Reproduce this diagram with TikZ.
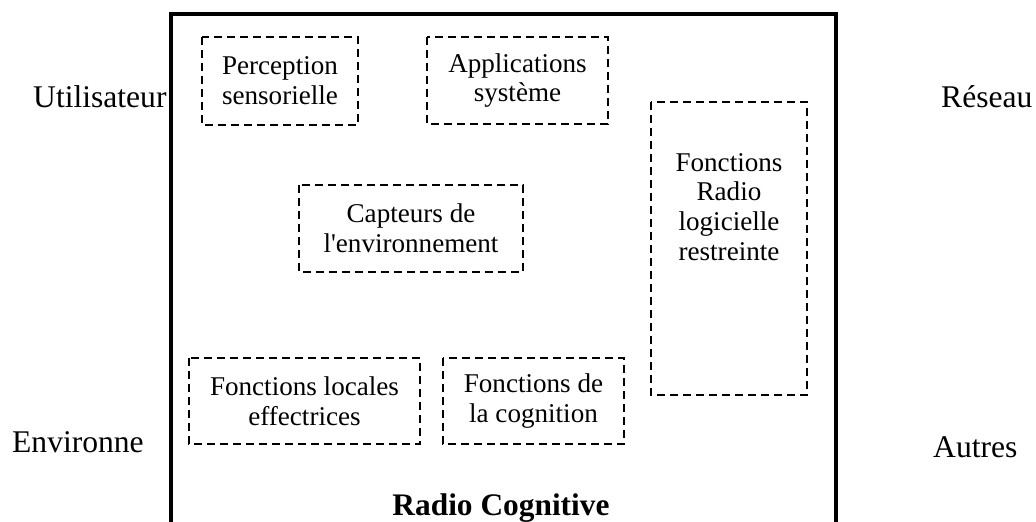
\documentclass[tikz,border=0pt]{standalone}
\usepackage{fontspec}
\setmainfont{Liberation Serif}[Ligatures=TeXOff]
\begin{document}
\begin{tikzpicture}[x=1bp,y=-1bp,
  frame/.style={line width=4bp},
  part/.style={draw, line width=1.8bp, dash pattern=on 8bp off 5bp},
  parttext/.style={align=center, font=\fontsize{27.2}{30}\selectfont, inner sep=0pt},
  outer/.style={font=\fontsize{31.7}{34}\selectfont, inner sep=0pt, anchor=base west}]
  \useasboundingbox (0,0) rectangle (1036,522);

  % cognitive radio frame (open at the bottom)
  \coordinate (fbl) at (171,530);
  \coordinate (ftl) at (171,14);
  \coordinate (ftr) at (835.5,14);
  \coordinate (fbr) at (835.5,530);
  \draw[frame] (fbl) -- (ftl) -- (ftr) -- (fbr);

  % functional blocks
  \draw[part] (202,37) rectangle (358,125);
  \node[parttext] (perc) at (280,81) {Perception\\sensorielle};

  \draw[part] (427,37) rectangle (608,124);
  \node[parttext] (appl) at (517.5,80.5) {Applications\\système};

  \draw[part] (651,102) rectangle (807,395);
  \node[parttext] (radio) at (729,207) {Fonctions\\Radio\\logicielle\\restreinte};

  \draw[part] (299,185) rectangle (523,272);
  \node[parttext] (capt) at (411,228.5) {Capteurs de\\l'environnement};

  \draw[part] (189,358) rectangle (420,444);
  \node[parttext] (loc) at (304.5,401) {Fonctions locales\\effectrices};

  \draw[part] (443,358) rectangle (624,444);
  \node[parttext] (cogn) at (533.5,401) {Fonctions de\\la cognition};

  % surrounding actors
  \node[outer] (user) at (33,108) {Utilisateur};
  \node[outer] (net) at (941,108) {Réseau};
  \node[outer] (env) at (12,452) {Environne};
  \node[outer] (other) at (933,457) {Autres};

  % title
  \node[font=\fontsize{31.5}{34}\selectfont\bfseries, inner sep=0pt, anchor=base] (title) at (501,515) {Radio Cognitive};
\end{tikzpicture}
\end{document}
